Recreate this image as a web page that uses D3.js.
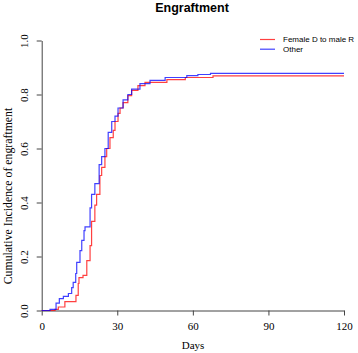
<!DOCTYPE html>
<html>
<head>
<meta charset="utf-8">
<script src="https://cdn.jsdelivr.net/npm/d3@7"></script>
<style>
  body { margin: 0; background: #fff; }
  .serif { font-family: "Liberation Serif", "Times New Roman", serif; fill: #000; }
  .sans { font-family: "Liberation Sans", Arial, sans-serif; fill: #000; }
</style>
</head>
<body>
<svg id="chart"></svg>
<script>
// ~~~ data ~~~
var seriesNames = ["Female D to male R", "Other"];
var seriesColors = ["rgba(255,0,0,0.75)", "rgba(0,0,255,0.75)"];

var daysFemale = [0, 5.3, 6.6, 9.2, 13.6, 14.5, 14.8, 16.4, 17.9, 19.2, 19.8, 21.1, 21.8, 23.1, 23.8, 25.1, 25.8, 27.1, 28.4, 29.1, 30.3, 31.1, 32.3, 34.2, 35.7, 38.2, 41, 49.7, 57, 68];
var cifFemale  = [0, 0.004, 0.013, 0.033, 0.056, 0.10, 0.122, 0.13, 0.185, 0.24, 0.33, 0.39, 0.43, 0.50, 0.53, 0.57, 0.60, 0.64, 0.667, 0.70, 0.73, 0.75, 0.77, 0.796, 0.815, 0.833, 0.845, 0.855, 0.863, 0.869];

var daysOther = [0, 3.3, 5.7, 7.0, 8.6, 10.6, 11.9, 12.5, 13.5, 13.9, 15.2, 15.9, 16.8, 17.2, 19.2, 19.8, 21.1, 22.8, 23.8, 25.1, 26.4, 27.8, 29.1, 30.3, 32.3, 34.2, 35.7, 39, 43, 49, 57.6, 62, 67];
var cifOther  = [0, 0.004, 0.027, 0.044, 0.052, 0.063, 0.085, 0.104, 0.137, 0.178, 0.222, 0.26, 0.296, 0.31, 0.38, 0.43, 0.47, 0.54, 0.57, 0.60, 0.66, 0.70, 0.72, 0.75, 0.78, 0.80, 0.82, 0.84, 0.852, 0.863, 0.87, 0.874, 0.878];

var xTicks = [0, 30, 60, 90, 120];
var yTicks = [0, 0.2, 0.4, 0.6, 0.8, 1.0];

// ~~~ setup ~~~
var width = 358, height = 353;
var svg = d3.select("#chart").attr("width", width).attr("height", height);

var x = d3.scaleLinear().domain([0, 120]).range([41.7, 344]);
var y = d3.scaleLinear().domain([0, 1]).range([310.5, 40.5]);

// title
svg.append("text").attr("class", "sans")
  .attr("x", 192).attr("y", 12)
  .attr("text-anchor", "middle")
  .style("font-size", "12.5px").style("font-weight", "bold")
  .text("Engraftment");

// ~~~ axes ~~~
var xAxis = svg.append("g").attr("transform", "translate(0," + y(0) + ")")
  .call(d3.axisBottom(x).tickValues(xTicks).tickSize(5).tickSizeOuter(0).tickFormat(d3.format("d")));
var yAxis = svg.append("g").attr("transform", "translate(" + x(0) + ",0)")
  .call(d3.axisLeft(y).tickValues(yTicks).tickSize(5).tickSizeOuter(0).tickFormat(d3.format(".1f")));

[xAxis, yAxis].forEach(function(a){
  a.selectAll("path, line").attr("stroke", "#444").attr("stroke-width", 1);
  a.selectAll("text").attr("class", "serif").style("font-size", "11px").attr("fill", "#000");
});
xAxis.selectAll("text").attr("y", 12);
// rotated y tick labels, as R does with las = 0
yAxis.selectAll(".tick text")
  .attr("x", 0).attr("y", 0).attr("dy", 0)
  .attr("text-anchor", "middle")
  .attr("transform", "translate(-14,0) rotate(-90)");

// axis titles
svg.append("text").attr("class", "serif")
  .attr("x", 193).attr("y", 349)
  .attr("text-anchor", "middle")
  .style("font-size", "11px")
  .text("Days");

svg.append("text").attr("class", "serif")
  .attr("transform", "translate(11.5,196) rotate(-90)")
  .attr("text-anchor", "middle")
  .style("font-size", "11.8px")
  .text("Cumulative Incidence of engraftment");

// ~~~ step curves ~~~
var line = d3.line()
  .x(function(d){ return x(d[0]); })
  .y(function(d){ return y(d[1]); })
  .curve(d3.curveStepAfter);

function toPoints(days, vals) {
  var pts = days.map(function(d, i){ return [d, vals[i]]; });
  pts.push([120, vals[vals.length - 1]]);   // carry last value to end of follow-up
  return pts;
}

var curves = [toPoints(daysFemale, cifFemale), toPoints(daysOther, cifOther)];

svg.append("g").selectAll("path")
  .data(curves)
  .enter()
  .append("path")
  .attr("d", line)
  .attr("fill", "none")
  .attr("stroke", function(d, i){ return seriesColors[i]; })
  .attr("stroke-width", 1.2);

// ~~~ legend ~~~
var legend = svg.append("g").selectAll("g")
  .data(seriesNames)
  .enter()
  .append("g")
  .attr("transform", function(d, i){ return "translate(260," + (39.5 + i * 9.7) + ")"; });

legend.append("line")
  .attr("x1", 0).attr("x2", 15)
  .attr("stroke", function(d, i){ return seriesColors[i]; })
  .attr("stroke-width", 1.2);

legend.append("text").attr("class", "sans")
  .attr("x", 23).attr("dy", "0.35em")
  .style("font-size", "8px")
  .text(function(d){ return d; });
</script>
</body>
</html>
